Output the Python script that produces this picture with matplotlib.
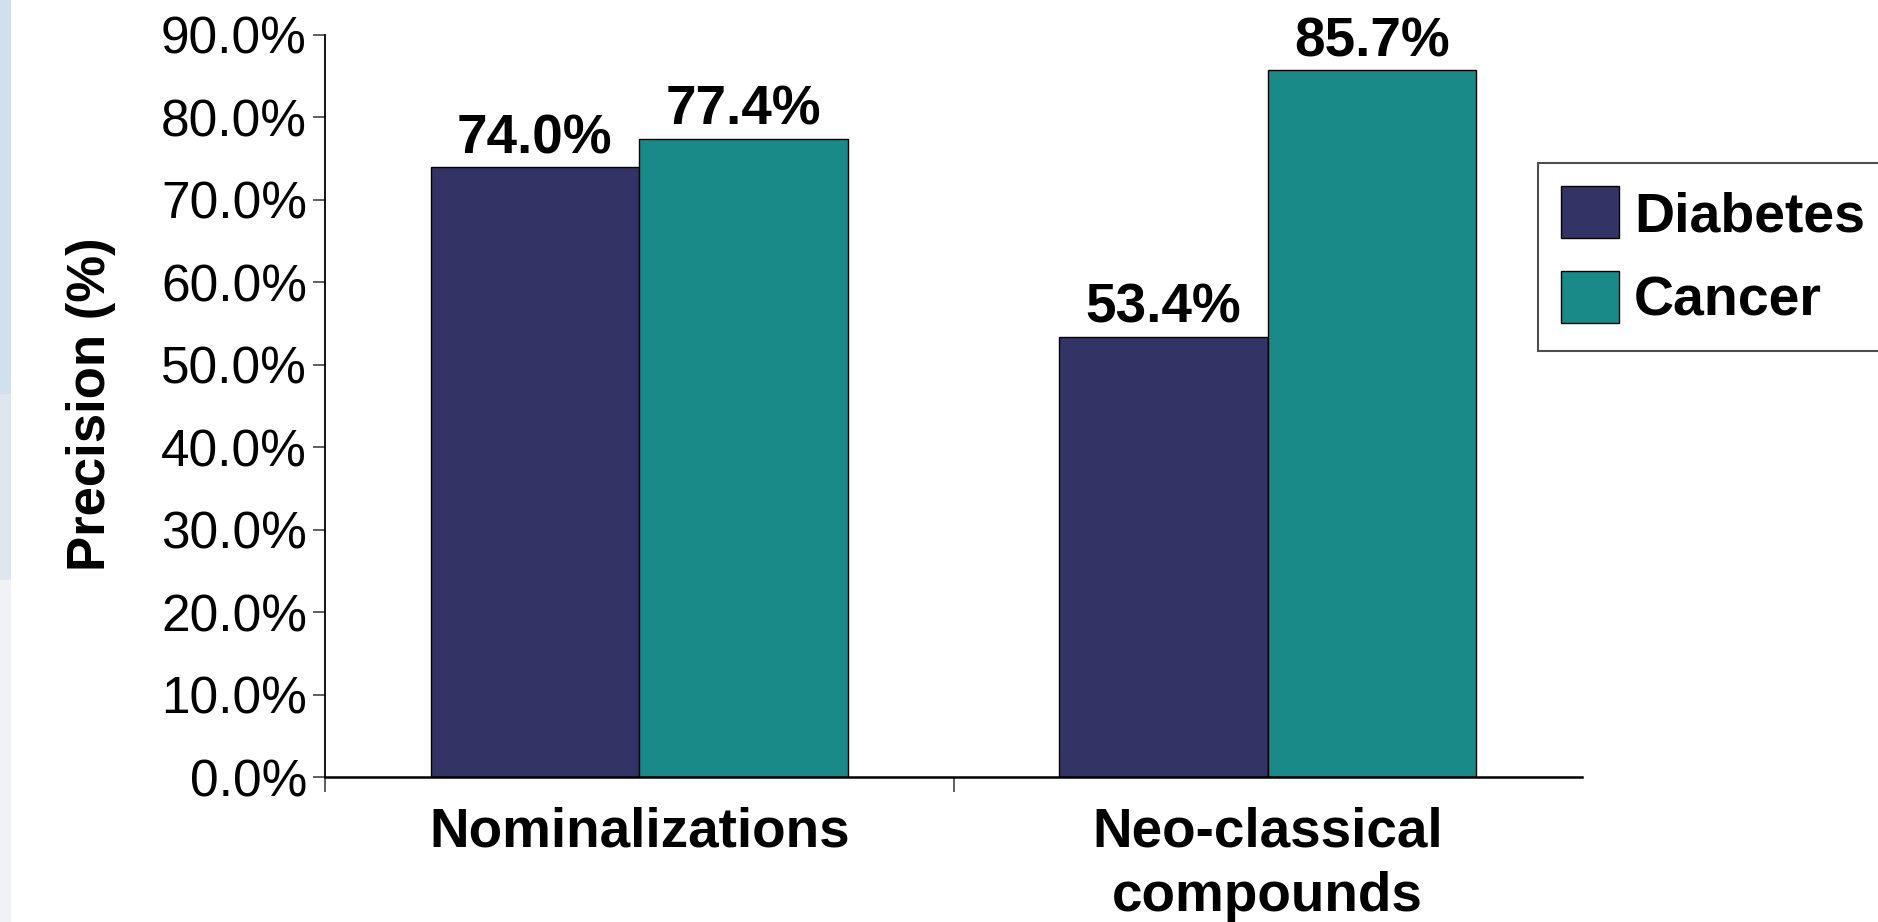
import numpy as np
import matplotlib.pyplot as plt
from matplotlib.patches import Rectangle

plt.rcParams['font.family'] = ['Liberation Sans', 'DejaVu Sans']

categories = ["Nominalizations", "Neo-classical\ncompounds"]
series = ["Diabetes", "Cancer"]
diabetes = [74.0, 53.4]
cancer = [77.4, 85.7]
yticks = [0, 10, 20, 30, 40, 50, 60, 70, 80, 90]

colors = ["#333366", "#1a8a89"]

fig = plt.figure(figsize=(18.78, 9.22), dpi=100)

# pale strip down the left edge
fig.patches.append(Rectangle((0, 1 - 394/922), 11/1878, 394/922, transform=fig.transFigure,
                             facecolor="#d2e0ee", edgecolor="none", zorder=0))
fig.patches.append(Rectangle((0, 1 - 580/922), 11/1878, 186/922, transform=fig.transFigure,
                             facecolor="#dfe6f0", edgecolor="none", zorder=0))
fig.patches.append(Rectangle((0, 0), 11/1878, 1 - 580/922, transform=fig.transFigure,
                             facecolor="#f1f2f6", edgecolor="none", zorder=0))

ax = fig.add_axes([325/1878, 1 - 777/922, (1582 - 325)/1878, (777 - 35)/922])

x = np.arange(len(categories))
w = 0.332
b1 = ax.bar(x - w/2, diabetes, w, color=colors[0], edgecolor="black", linewidth=1.0, label=series[0])
b2 = ax.bar(x + w/2, cancer, w, color=colors[1], edgecolor="black", linewidth=1.0, label=series[1])

for bars, vals in [(b1, diabetes), (b2, cancer)]:
    for r, v in zip(bars, vals):
        ax.annotate(f"{v:.1f}%", (r.get_x() + r.get_width()/2, v), xytext=(0, 10),
                    textcoords="offset points", ha="center", va="baseline",
                    fontsize=39.5, fontweight="bold")

ax.set_xlim(-0.5, 1.5)
ax.set_ylim(0, 90)
ax.set_yticks(yticks)
ax.set_yticklabels([f"{t:.1f}%" for t in yticks], fontsize=37)
ax.tick_params(axis="y", length=9, width=1.2, pad=4, color="#444444")

ax.set_xticks(x)
ax.set_xticklabels(categories, fontsize=39.5, fontweight="bold", linespacing=1.33, va="top")
ax.tick_params(axis="x", which="major", length=0, pad=21)
ax.set_xticks([-0.5, 0.5], minor=True)
ax.tick_params(axis="x", which="minor", length=11, width=1.2, color="#444444")

for s in ["top", "right"]:
    ax.spines[s].set_visible(False)
ax.spines["left"].set_linewidth(1.3)
ax.spines["bottom"].set_linewidth(1.8)

ax.set_ylabel("Precision (%)", fontsize=38, fontweight="bold")
ax.yaxis.set_label_coords(-0.166, 0.503)

leg = fig.legend(loc="upper left", bbox_to_anchor=(1538/1878, 1 - 163/922),
                 prop={"weight": "bold", "size": 40},
                 frameon=True, fancybox=False, handlelength=1.03, handleheight=1.06,
                 handletextpad=0.28, labelspacing=0.5, borderpad=0.42, borderaxespad=0)
leg.get_frame().set_edgecolor("#222222")
leg.get_frame().set_linewidth(1.5)

fig.savefig("out.png", dpi=100)
